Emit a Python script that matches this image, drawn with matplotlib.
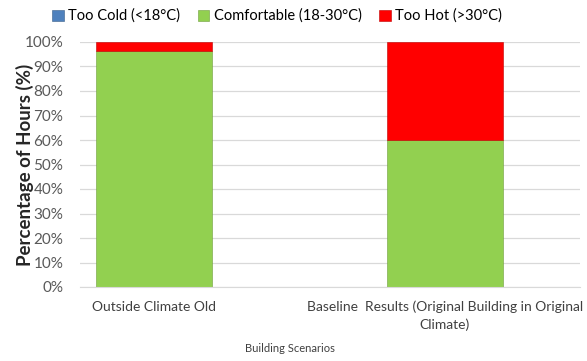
import numpy as np
import matplotlib
matplotlib.use("Agg")
import matplotlib.pyplot as plt

plt.rcParams["font.family"] = ["Lato", "DejaVu Sans"]

scenarios = ["Outside Climate Old",
             "Baseline  Results (Original Building in Original\nClimate)"]
too_cold = [0.0, 0.0]
comfortable = [96.3, 60.0]
too_hot = [3.7, 40.0]

fig = plt.figure(figsize=(5.87, 3.61), dpi=100)
ax = fig.add_axes([80 / 587, 1 - 287 / 361, 500 / 587, 245 / 361])

x = np.arange(len(scenarios))
w = 0.4
b0 = ax.bar(x, too_cold, w, color="#4F81BD", edgecolor="#3a5f8a", linewidth=0.4,
            label="Too Cold (<18°C)")
b1 = ax.bar(x, comfortable, w, bottom=too_cold, color="#92D050", edgecolor="#6f9e3c",
            linewidth=0.4, label="Comfortable (18-30°C)")
bottom2 = np.array(too_cold) + np.array(comfortable)
b2 = ax.bar(x, too_hot, w, bottom=bottom2, color="#FF0000", edgecolor="#c00000",
            linewidth=0.4, label="Too Hot (>30°C)")

ax.set_xlim(-0.254, 1.464)
ax.set_ylim(0, 100)
ax.set_yticks(np.arange(0, 101, 10))
ax.set_yticklabels([f"{v}%" for v in range(0, 101, 10)], fontsize=11, color="#595959")
ax.yaxis.grid(True, color="#D9D9D9", linewidth=0.9)
ax.set_axisbelow(True)
ax.tick_params(axis="y", length=0, pad=12)
ax.tick_params(axis="x", length=0, pad=10)
ax.set_xticks(x)
ax.set_xticklabels(scenarios, fontsize=10, color="#404040", linespacing=1.45)
for s in ["top", "right", "left"]:
    ax.spines[s].set_visible(False)
ax.spines["bottom"].set_color("#D9D9D9")

ax.set_ylabel("Percentage of Hours (%)", fontsize=13.5, fontweight="bold", color="#262626")
ax.yaxis.set_label_coords(-0.092, 0.5)
fig.text(290 / 587, 1 - 349 / 361, "Building Scenarios", fontsize=8, color="#404040",
         ha="center", va="center")

fig.legend(handles=[b0, b1, b2], loc="center left", bbox_to_anchor=(52 / 587, 1 - 16 / 361),
           ncol=3, frameon=False, fontsize=10.5, handlelength=0.8, handleheight=0.8,
           handletextpad=0.3, columnspacing=1.2, borderaxespad=0, borderpad=0)

fig.savefig("out.png", dpi=100)
